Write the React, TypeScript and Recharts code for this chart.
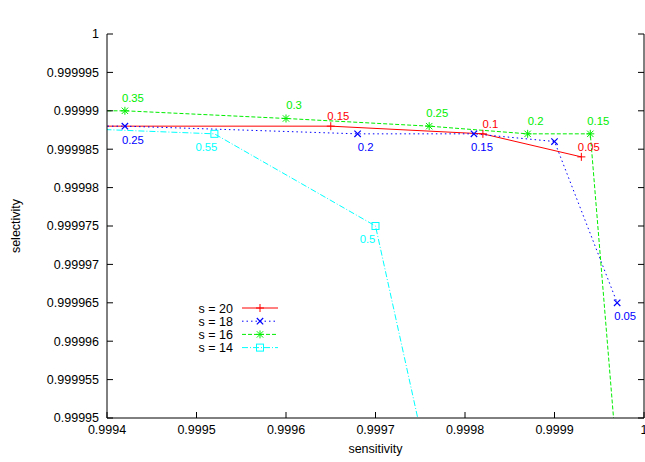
import React from "react";
import {LabelList, Legend, Line, LineChart, XAxis, YAxis} from "recharts";

// axis ticks
const xTicks = [0.9994, 0.9995, 0.9996, 0.9997, 0.9998, 0.9999, 1];
const xTickLabels = ["0.9994", "0.9995", "0.9996", "0.9997", "0.9998", "0.9999", "1"];
const yTicks = [0.99995, 0.999955, 0.99996, 0.999965, 0.99997, 0.999975, 0.99998, 0.999985, 0.99999, 0.999995, 1];
const yTickLabels = ["0.99995", "0.999955", "0.99996", "0.999965", "0.99997", "0.999975", "0.99998", "0.999985", "0.99999", "0.999995", "1"];

// s = 20
const s20Sens = [0.9993, 0.99965, 0.99982, 0.99993];
const s20Sel = [0.999988, 0.999988, 0.999987, 0.999984];
const s20Thr = ["", "0.15", "0.1", "0.05"];

// s = 18
const s18Sens = [0.9993, 0.99942, 0.99968, 0.99981, 0.9999, 0.99997];
const s18Sel = [0.999988, 0.999988, 0.999987, 0.999987, 0.999986, 0.999965];
const s18Thr = ["", "0.25", "0.2", "0.15", "", "0.05"];

// s = 16
const s16Sens = [0.9993, 0.99942, 0.9996, 0.99976, 0.99987, 0.99994, 0.99998];
const s16Sel = [0.99999, 0.99999, 0.999989, 0.999988, 0.999987, 0.999987, 0.99993];
const s16Thr = ["", "0.35", "0.3", "0.25", "0.2", "0.15", ""];

// s = 14
const s14Sens = [0.9993, 0.99952, 0.9997, 0.9998];
const s14Sel = [0.999988, 0.999987, 0.999975, 0.999922];
const s14Thr = ["", "0.55", "0.5", ""];

const toPoints = (xs: number[], ys: number[], labels: string[]) =>
    xs.map((x, i) => ({x, y: ys[i], label: labels[i]}));

const series = [
    {name: "s = 20", data: toPoints(s20Sens, s20Sel, s20Thr), color: "#ff0000", dash: undefined, marker: "plus", ldx: 7.5, ldy: -6},
    {name: "s = 18", data: toPoints(s18Sens, s18Sel, s18Thr), color: "#0000ff", dash: "1.5 3", marker: "cross", ldx: 8, ldy: 17.5},
    {name: "s = 16", data: toPoints(s16Sens, s16Sel, s16Thr), color: "#00ee00", dash: "4 2", marker: "star", ldx: 8, ldy: -9},
    {name: "s = 14", data: toPoints(s14Sens, s14Sel, s14Thr), color: "#00ffff", dash: "6 2 1 2", marker: "square", ldx: -8, ldy: 17},
];

const FONT = "'Liberation Sans', Arial, sans-serif";

function Marker({kind, cx, cy, color}: {kind: string, cx: number, cy: number, color: string}) {
    const r = 4;
    const c = 3.2;
    const plus = `M${cx - r},${cy}H${cx + r}M${cx},${cy - r}V${cy + r}`;
    const cross = `M${cx - c},${cy - c}L${cx + c},${cy + c}M${cx - c},${cy + c}L${cx + c},${cy - c}`;
    if (kind === "plus") return <path d={plus} stroke={color} strokeWidth={1} fill="none"/>;
    if (kind === "cross") return <path d={cross} stroke={color} strokeWidth={1.2} fill="none"/>;
    if (kind === "star") return <path d={plus + cross} stroke={color} strokeWidth={1} fill="none"/>;
    return <rect x={cx - 3.5} y={cy - 3.5} width={7} height={7} stroke={color} strokeWidth={1} fill="none"/>;
}

function LegendBox() {
    return (
        <svg width={110} height={56} style={{fontFamily: FONT}}>
            {series.map((s, i) => {
                const y = 8 + i * 13.2;
                return (
                    <g key={s.name}>
                        <text x={53} y={y + 4.5} textAnchor="end" fontSize={12.5} fill="#000">{s.name}</text>
                        <line x1={62} x2={98} y1={y} y2={y} stroke={s.color} strokeDasharray={s.dash}/>
                        <Marker kind={s.marker} cx={80} cy={y} color={s.color}/>
                    </g>
                );
            })}
        </svg>
    );
}

export default function App() {
    return (
        <div style={{position: "absolute", left: 0, top: 0, fontFamily: FONT}}>
            <LineChart width={645} height={462} margin={{top: 34, right: 0, bottom: 0, left: 0}}>
                <XAxis
                    xAxisId="b"
                    type="number"
                    dataKey="x"
                    domain={[0.9994, 1]}
                    allowDataOverflow
                    ticks={xTicks}
                    interval={0}
                    tickFormatter={(v: number, i: number) => xTickLabels[i]}
                    height={44}
                    tickSize={-6}
                    tickMargin={13.5}
                    stroke="#000"
                    tick={{fill: "#000", fontSize: 12.5}}
                    label={{value: "sensitivity", position: "insideBottom", offset: 9, fill: "#000", fontSize: 12.5}}
                />
                <XAxis
                    xAxisId="t"
                    orientation="top"
                    type="number"
                    dataKey="x"
                    domain={[0.9994, 1]}
                    allowDataOverflow
                    ticks={xTicks}
                    interval={0}
                    tickFormatter={() => ""}
                    height={0}
                    tickSize={-6}
                    stroke="#000"
                    label={{value: "16S 80% identity (454 reads)", position: "top", offset: 14.5, fill: "#000", fontSize: 13}}
                />
                <YAxis
                    yAxisId="l"
                    type="number"
                    domain={[0.99995, 1]}
                    allowDataOverflow
                    ticks={yTicks}
                    interval={0}
                    tickFormatter={(v: number, i: number) => yTickLabels[i]}
                    width={107}
                    tickSize={-6}
                    tickMargin={14}
                    stroke="#000"
                    tick={{fill: "#000", fontSize: 12.5}}
                    label={{value: "selectivity", angle: -90, position: "insideLeft", offset: 16, fill: "#000", fontSize: 12.5, style: {textAnchor: "middle"}}}
                />
                <YAxis
                    yAxisId="r"
                    orientation="right"
                    type="number"
                    domain={[0.99995, 1]}
                    allowDataOverflow
                    ticks={yTicks}
                    interval={0}
                    tickFormatter={() => ""}
                    width={1}
                    tickSize={-6}
                    stroke="#000"
                />
                {series.map((s) => (
                    <Line
                        key={s.name}
                        xAxisId="b"
                        yAxisId="l"
                        data={s.data}
                        dataKey="y"
                        name={s.name}
                        type="linear"
                        stroke={s.color}
                        strokeWidth={1}
                        strokeDasharray={s.dash}
                        isAnimationActive={false}
                        dot={(p: any) => (
                            <g key={`${s.name}-${p.index}`}>
                                <Marker kind={s.marker} cx={p.cx} cy={p.cy} color={s.color}/>
                            </g>
                        )}
                        activeDot={false}
                    >
                        <LabelList
                            dataKey="label"
                            content={(p: any) => p.value ? (
                                <text
                                    x={p.x + s.ldx}
                                    y={p.y + s.ldy}
                                    textAnchor="middle"
                                    fontSize={11.3}
                                    fill={s.color}
                                >
                                    {p.value}
                                </text>
                            ) : null}
                        />
                    </Line>
                ))}
                <Legend
                    layout="horizontal"
                    verticalAlign="middle"
                    align="center"
                    wrapperStyle={{left: 180, top: 300, width: 110, height: 56}}
                    content={() => <LegendBox/>}
                />
            </LineChart>
        </div>
    );
}
